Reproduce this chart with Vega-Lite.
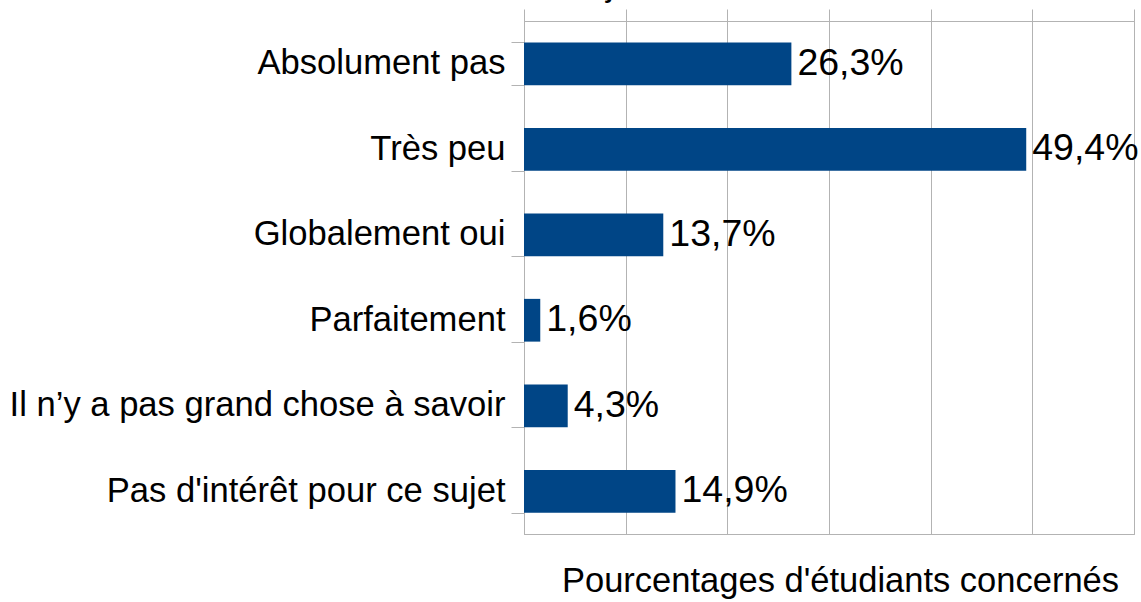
{
  "$schema": "https://vega.github.io/schema/vega-lite/v6.json",
  "width": 610,
  "height": 513,
  "autosize": {"type": "none"},
  "padding": {"left": 524, "top": 21, "right": 7, "bottom": 68},
  "background": "white",
  "title": {
    "text": "de ces sujets ?",
    "fontSize": 34,
    "font": "Liberation Sans",
    "fontWeight": "normal",
    "anchor": "middle",
    "frame": "bounds",
    "offset": 0,
    "color": "#000000"
  },
  "data": {
    "values": [
      {"cat": "Absolument pas", "pct": 26.3, "label": "26,3%"},
      {"cat": "Très peu", "pct": 49.4, "label": "49,4%"},
      {"cat": "Globalement oui", "pct": 13.7, "label": "13,7%"},
      {"cat": "Parfaitement", "pct": 1.6, "label": "1,6%"},
      {"cat": "Il n’y a pas grand chose à savoir", "pct": 4.3, "label": "4,3%"},
      {"cat": "Pas d'intérêt pour ce sujet", "pct": 14.9, "label": "14,9%"}
    ]
  },
  "config": {
    "view": {"stroke": "#b3b3b3"},
    "axis": {"domainColor": "#b3b3b3", "tickColor": "#b3b3b3", "gridColor": "#b3b3b3", "labelFont": "Liberation Sans", "titleFont": "Liberation Sans"}
  },
  "layer": [
    {
      "mark": {"type": "bar", "color": "#004586"},
      "encoding": {
        "y": {
          "field": "cat",
          "type": "nominal",
          "sort": null,
          "scale": {"paddingInner": 0.5, "paddingOuter": 0.25},
          "axis": {
            "title": null,
            "tickBand": "extent",
            "tickSize": 13,
            "labelFontSize": 34.6,
            "labelColor": "#000000",
            "labelPadding": 6,
            "labelLimit": 700,
            "grid": false
          }
        },
        "x": {
          "field": "pct",
          "type": "quantitative",
          "scale": {"domain": [0, 60], "nice": false},
          "axis": {
            "orient": "bottom",
            "title": "Pourcentages d'étudiants concernés",
            "titleFontSize": 34.5,
            "titleFontWeight": "normal",
            "titleColor": "#000000",
            "titlePadding": 30,
            "titleX": 316,
            "labels": false,
            "ticks": false,
            "grid": true,
            "values": [0, 10, 20, 30, 40, 50, 60]
          }
        }
      }
    },
    {
      "mark": {"type": "text", "align": "left", "baseline": "middle", "dx": 6, "fontSize": 37.5, "font": "Liberation Sans", "color": "#000000"},
      "encoding": {
        "y": {"field": "cat", "type": "nominal", "sort": null},
        "x": {
          "field": "pct",
          "type": "quantitative",
          "axis": {
            "orient": "top",
            "title": null,
            "labels": false,
            "ticks": true,
            "tickSize": 12,
            "grid": false,
            "values": [0, 10, 20, 30, 40, 50, 60]
          }
        },
        "text": {"field": "label"}
      }
    }
  ],
  "resolve": {"axis": {"x": "independent"}}
}
